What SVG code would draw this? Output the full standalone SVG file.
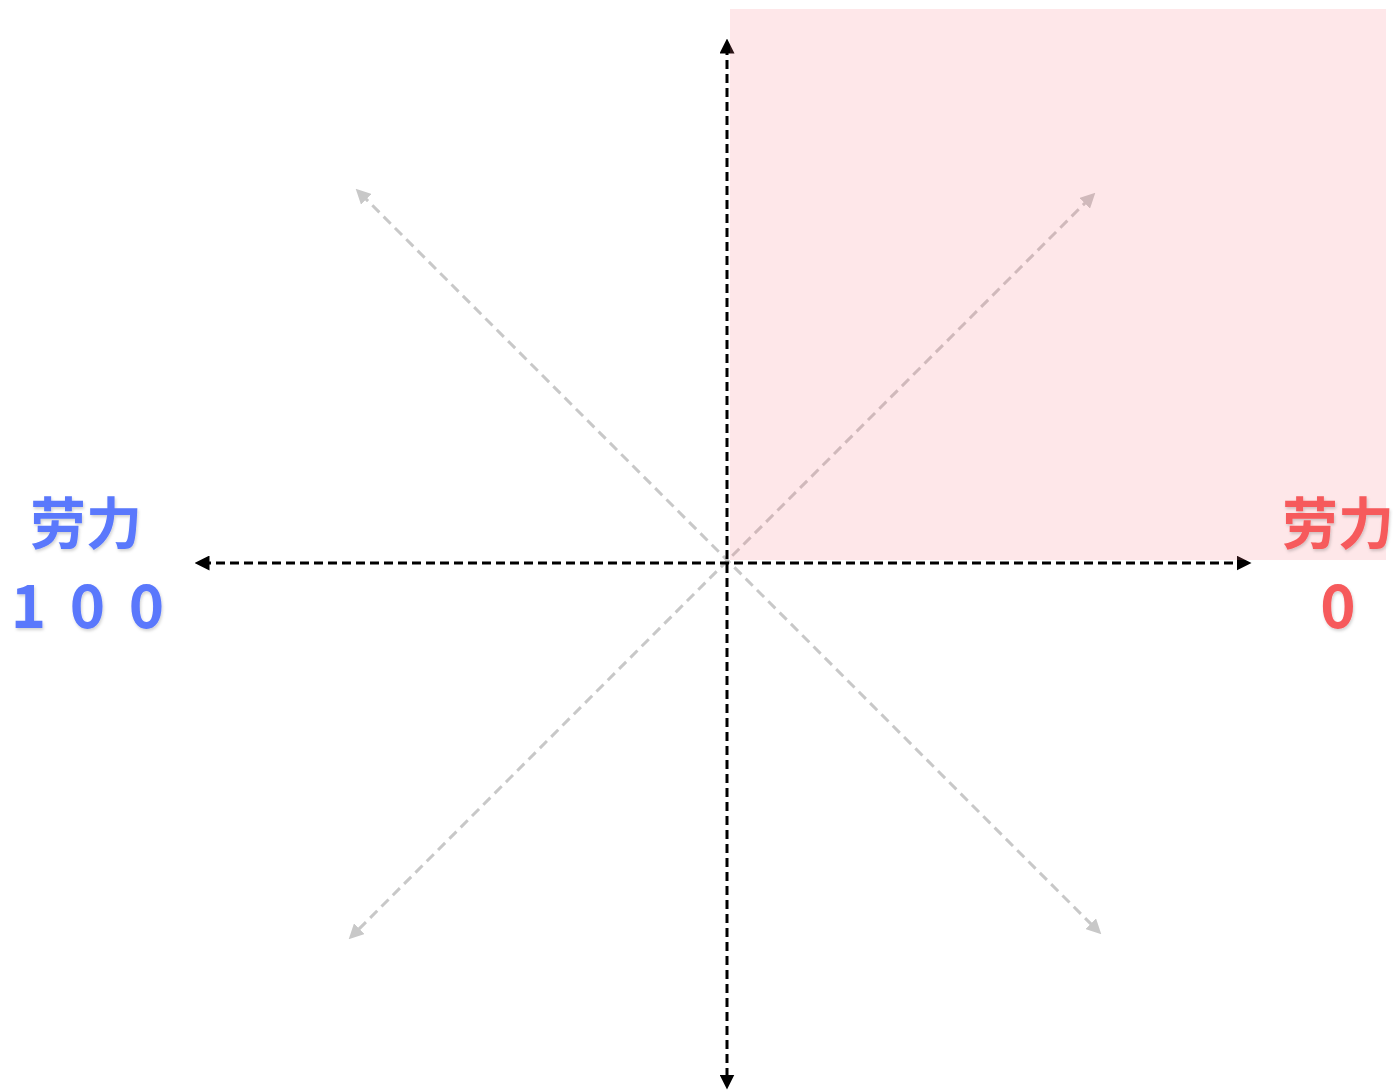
<svg xmlns="http://www.w3.org/2000/svg" width="1395" height="1090" viewBox="0 0 1395 1090">
<defs>
<marker id="ab" viewBox="0 0 10 10" refX="5" refY="5" markerWidth="5" markerHeight="5" orient="auto-start-reverse" markerUnits="strokeWidth"><path d="M0,0 L10,5 L0,10 Z" fill="#000"/></marker>
<marker id="ag" viewBox="0 0 10 10" refX="5" refY="5" markerWidth="5" markerHeight="5" orient="auto-start-reverse" markerUnits="strokeWidth"><path d="M0,0 L10,5 L0,10 Z" fill="#c8c8c8"/></marker>
<filter id="sh" x="-10%" y="-10%" width="130%" height="130%"><feDropShadow dx="1" dy="2" stdDeviation="1.5" flood-color="#000" flood-opacity="0.18"/></filter>
</defs>
<style>
.axis{stroke:#000;stroke-width:3;stroke-dasharray:9 5;fill:none;marker-start:url(#ab);marker-end:url(#ab)}
.diag{stroke:#c8c8c8;stroke-width:3;stroke-dasharray:10 6;fill:none;marker-start:url(#ag);marker-end:url(#ag)}
.lbl{font-family:"Noto Sans CJK SC","Noto Sans",sans-serif;font-weight:700;text-anchor:middle;filter:url(#sh)}
.blue{fill:#5a78fc}
.red{fill:#f65a5c}
</style>
<rect width="1395" height="1090" fill="#fff"/>
<g id="connectors">
<line class="diag" x1="361" y1="194" x2="1096" y2="929"/>
<line class="diag" x1="1090" y1="198" x2="354" y2="934"/>
<line class="axis" x1="727" y1="46" x2="727" y2="1082"/>
<line class="axis" x1="202" y1="563" x2="1244" y2="563"/>
</g>
<rect id="quadrant" x="730" y="9" width="656" height="551" fill="#f7707a" fill-opacity="0.17"/>
<g id="label-left">
<text class="lbl blue" x="86" y="544" font-size="56">劳力</text>
<text class="lbl blue" x="90" y="628" font-size="60" letter-spacing="5">1 0 0</text>
</g>
<g id="label-right">
<text class="lbl red" x="1338" y="544" font-size="56">劳力</text>
<text class="lbl red" x="1338" y="628" font-size="60">0</text>
</g>
</svg>
